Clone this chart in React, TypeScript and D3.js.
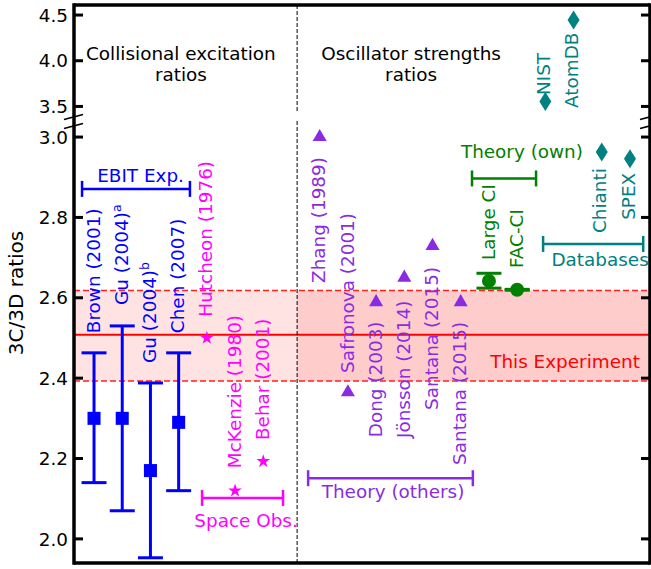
import * as d3 from "d3";

// EBIT measurements (collisional excitation)
const ebitNames = ["Brown (2001)", "Gu (2004)", "Gu (2004)", "Chen (2007)"];
const ebitSup = ["", "a", "b", ""];
const ebitSlot = [1, 2, 3, 4];
const ebitValue = [2.3, 2.3, 2.17, 2.29];
const ebitLow = [2.14, 2.07, 1.953, 2.12];
const ebitHigh = [2.463, 2.53, 2.388, 2.463];
const ebitLabelAt = [2.512, 2.582, 2.438, 2.512];

// space observations
const spaceNames = ["Hutcheon (1976)", "McKenzie (1980)", "Behar (2001)"];
const spaceSlot = [5, 6, 7];
const spaceValue = [2.5, 2.12, 2.193];
const spaceLabelAt = [2.553, 2.176, 2.246];

// theory (others), oscillator strengths
const othersNames = ["Zhang (1989)", "Safronova (2001)", "Dong (2003)", "Jönsson (2014)", "Santana (2015)", "Santana (2015)"];
const othersSlot = [9, 10, 11, 12, 13, 14];
const othersValue = [3.0, 2.365, 2.589, 2.65, 2.729, 2.589];
const othersLabelAt = [2.637, 2.413, 2.253, 2.251, 2.321, 2.184];

// theory (own)
const ownNames = ["Large CI", "FAC-CI"];
const ownSlot = [15, 16];
const ownValue = [2.642, 2.62];
const ownLow = [2.624, 2.619];
const ownHigh = [2.661, 2.621];
const ownLabelAt = [2.694, 2.674];

// databases
const dbNames = ["NIST", "AtomDB", "Chianti", "SPEX"];
const dbSlot = [17, 18, 19, 20];
const dbValue = [3.555, 4.445, 2.963, 2.946];
const dbLabelAt = [3.625, 3.483, 2.761, 2.794];

// this experiment
const expValue = 2.508;
const expLow = 2.393;
const expHigh = 2.618;

// group brackets
const groupNames = ["EBIT Exp.", "Space Obs.", "Theory (others)", "Theory (own)", "Databases"];
const groupFrom = [0.575, 4.83, 8.59, 14.4, 16.92];
const groupTo = [4.4, 7.7, 14.43, 16.67, 20.47];
const groupAt = [2.871, 2.102, 2.151, 2.897, 2.734];
const groupTextSlot = [2.65, 6.39, 11.6, 16.17, 18.94];
const groupTextAt = [2.889, 2.03, 2.101, 2.947, 2.679];

const upperTicks = [3.5, 4.0, 4.5];
const lowerTicks = [2.0, 2.2, 2.4, 2.6, 2.8, 3.0];

const BLUE = "#0000ff";
const MAGENTA = "#ff00ff";
const PURPLE = "#8a2be2";
const GREEN = "#008000";
const TEAL = "#008080";
const FONT = "DejaVu Sans";
const FS = 18.4;

const VLabel = ({ x, y, color, text, sup = "" }) => (
  <text
    transform={`translate(${x},${y}) rotate(-90)`}
    dy="0.36em"
    fill={color}
    stroke="none"
    fontSize={FS}
  >
    {text}
    {sup && (
      <tspan dy="-0.55em" fontSize={12.5}>
        {sup}
      </tspan>
    )}
  </text>
);

const App = () => {
  const W = 651;
  const H = 569;
  const left = 74;
  const right = 650;
  const top = 5;
  const bottom = 563;

  const x = d3.scaleLinear().domain([0.29, 20.71]).range([left, right]);
  const yUp = d3.scaleLinear().domain([3.38, 4.61]).range([117.4, top]);
  const yLo = d3.scaleLinear().domain([1.94, 3.03]).range([bottom, 125]);
  const y = (v) => (v > 3.2 ? yUp(v) : yLo(v));
  const fmt = d3.format(".1f");

  const square = d3.symbol(d3.symbolSquare, 170)();
  const star = d3.symbol(d3.symbolStar, 58)();
  const tri = d3.symbol(d3.symbolTriangle, 85)();
  const diamond = "M0,-9.5L6,0L0,9.5L-6,0Z";

  const divX = x(8.2);
  const cap = 12.5;

  return (
    <svg
      width={W}
      height={H}
      style={{ position: "absolute", left: 0, top: 0, background: "#fff" }}
      fontFamily={FONT}
    >
      {/* experiment band */}
      <rect x={left} y={yLo(expHigh)} width={divX - left} height={yLo(expLow) - yLo(expHigh)} fill="#ffe3e3" />
      <rect x={divX} y={yLo(expHigh)} width={right - divX} height={yLo(expLow) - yLo(expHigh)} fill="#ffcccc" />
      <line x1={left} x2={right} y1={yLo(expValue)} y2={yLo(expValue)} stroke="#ff0000" strokeWidth={1.8} />
      {[expLow, expHigh].map((v, i) => (
        <line key={i} x1={left} x2={right} y1={yLo(v)} y2={yLo(v)} stroke="#ff2020" strokeWidth={1.6} strokeDasharray="6,3" />
      ))}
      <text x={565} y={yLo(expValue) + 33} textAnchor="middle" fill="#ff0000" fontSize={FS}>
        This Experiment
      </text>

      {/* divider */}
      <line x1={divX} x2={divX} y1={top} y2={113} stroke="#000" strokeWidth={1} strokeDasharray="4,2" />
      <line x1={divX} x2={divX} y1={121} y2={bottom} stroke="#000" strokeWidth={1} strokeDasharray="4,2" />

      {/* titles */}
      <text x={x(4.08)} y={60} textAnchor="middle" fontSize={FS}>
        <tspan x={x(4.08)}>Collisional excitation</tspan>
        <tspan x={x(4.08)} dy={21}>ratios</tspan>
      </text>
      <text x={x(12.24)} y={60} textAnchor="middle" fontSize={FS}>
        <tspan x={x(12.24)}>Oscillator strengths</tspan>
        <tspan x={x(12.24)} dy={21}>ratios</tspan>
      </text>

      {/* EBIT */}
      {ebitSlot.map((s, i) => (
        <g key={i} stroke={BLUE} strokeWidth={3}>
          <line x1={x(s)} x2={x(s)} y1={yLo(ebitLow[i])} y2={yLo(ebitHigh[i])} />
          <line x1={x(s) - cap} x2={x(s) + cap} y1={yLo(ebitLow[i])} y2={yLo(ebitLow[i])} />
          <line x1={x(s) - cap} x2={x(s) + cap} y1={yLo(ebitHigh[i])} y2={yLo(ebitHigh[i])} />
          <path d={square} transform={`translate(${x(s)},${yLo(ebitValue[i])})`} fill={BLUE} stroke="none" />
        </g>
      ))}
      {ebitSlot.map((s, i) => (
        <VLabel key={i} x={x(s) - 1} y={yLo(ebitLabelAt[i])} color={BLUE} text={ebitNames[i]} sup={ebitSup[i]} />
      ))}

      {/* space observations */}
      {spaceSlot.map((s, i) => (
        <g key={i}>
          <path d={star} transform={`translate(${x(s)},${yLo(spaceValue[i])})`} fill={MAGENTA} />
          <VLabel x={x(s) - 1} y={yLo(spaceLabelAt[i])} color={MAGENTA} text={spaceNames[i]} />
        </g>
      ))}

      {/* theory (others) */}
      {othersSlot.map((s, i) => (
        <g key={i}>
          <path d={tri} transform={`translate(${x(s)},${yLo(othersValue[i])})`} fill={PURPLE} />
          <VLabel x={x(s) - 1} y={yLo(othersLabelAt[i])} color={PURPLE} text={othersNames[i]} />
        </g>
      ))}

      {/* theory (own) */}
      {ownSlot.map((s, i) => (
        <g key={i}>
          <g stroke={GREEN} strokeWidth={3}>
            <line x1={x(s)} x2={x(s)} y1={yLo(ownLow[i])} y2={yLo(ownHigh[i])} />
            <line x1={x(s) - cap} x2={x(s) + cap} y1={yLo(ownLow[i])} y2={yLo(ownLow[i])} />
            <line x1={x(s) - cap} x2={x(s) + cap} y1={yLo(ownHigh[i])} y2={yLo(ownHigh[i])} />
          </g>
          <circle cx={x(s)} cy={yLo(ownValue[i])} r={7} fill={GREEN} />
          <VLabel x={x(s) - 1} y={yLo(ownLabelAt[i])} color={GREEN} text={ownNames[i]} />
        </g>
      ))}

      {/* databases */}
      {dbSlot.map((s, i) => (
        <g key={i}>
          <path d={diamond} transform={`translate(${x(s)},${y(dbValue[i])})`} fill={TEAL} />
          <VLabel x={x(s) - 2} y={y(dbLabelAt[i])} color={TEAL} text={dbNames[i]} />
        </g>
      ))}

      {/* group brackets */}
      {groupNames.map((g, i) => {
        const c = [BLUE, MAGENTA, PURPLE, GREEN, TEAL][i];
        const yy = yLo(groupAt[i]);
        return (
          <g key={g}>
            <g stroke={c} strokeWidth={2.5}>
              <line x1={x(groupFrom[i])} x2={x(groupTo[i])} y1={yy} y2={yy} />
              <line x1={x(groupFrom[i])} x2={x(groupFrom[i])} y1={yy - 8} y2={yy + 8} />
              <line x1={x(groupTo[i])} x2={x(groupTo[i])} y1={yy - 8} y2={yy + 8} />
            </g>
            <text x={x(groupTextSlot[i])} y={yLo(groupTextAt[i])} textAnchor="middle" fill={c} fontSize={FS}>
              {g}
            </text>
          </g>
        );
      })}

      {/* axes frame */}
      <g stroke="#000" strokeWidth={3.5} fill="none">
        <line x1={left} x2={left} y1={top - 1.75} y2={bottom + 1.75} />
        <line x1={right} x2={right} y1={top - 1.75} y2={bottom + 1.75} />
        <line x1={left} x2={right} y1={top} y2={top} />
        <line x1={left} x2={right} y1={bottom} y2={bottom} />
      </g>
      {/* break marks */}
      <g stroke="#000" strokeWidth={1.5}>
        {[117, 126].map((b) => (
          <g key={b}>
            <line x1={left - 10} x2={left + 9} y1={b + 2.5} y2={b - 2.5} />
            <line x1={right - 10} x2={right + 9} y1={b + 2.5} y2={b - 2.5} />
          </g>
        ))}
      </g>
      {/* ticks */}
      {[...upperTicks.map((t) => [t, yUp(t)]), ...lowerTicks.map((t) => [t, yLo(t)])].map(([t, ty]) => (
        <g key={t}>
          <line x1={left} x2={left + 9} y1={ty} y2={ty} stroke="#000" strokeWidth={3} />
          <line x1={right - 9} x2={right} y1={ty} y2={ty} stroke="#000" strokeWidth={3} />
          <text x={68} y={ty} dy="0.36em" textAnchor="end" fontSize={FS}>
            {fmt(t)}
          </text>
        </g>
      ))}
      <text transform={`translate(23,293) rotate(-90)`} textAnchor="middle" fontSize={20}>
        3C/3D ratios
      </text>
    </svg>
  );
};

export default App;
